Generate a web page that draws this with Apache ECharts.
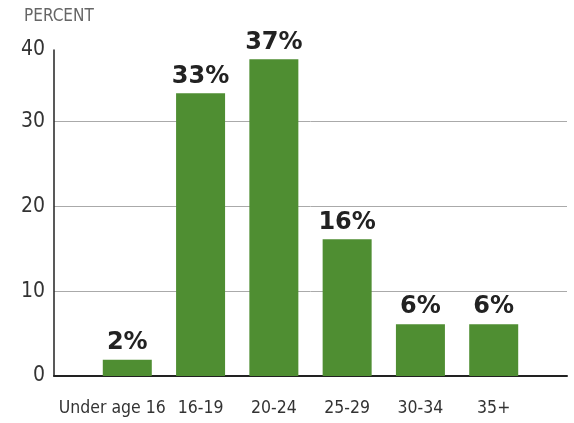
<!DOCTYPE html>
<html>
<head>
<meta charset="utf-8">
<script src="https://cdn.jsdelivr.net/npm/echarts@6/dist/echarts.min.js"></script>
<style>
  html, body { margin: 0; padding: 0; background: #fff; }
  #chart { width: 574px; height: 423px; }
</style>
</head>
<body>
<div id="chart"></div>
<script>
// empty slots at both ends keep the bars on the axis points
const categories = ['', 'Under age 16', '16-19', '20-24', '25-29', '30-34', '35+', ''];
const shares = [null, 1.9, 33.3, 37.3, 16.1, 6.1, 6.1, null];
const yTicks = [0, 10, 20, 30];
const yTopValue = 38.4;
const yTopLabel = '40';

const chart = echarts.init(document.getElementById('chart'));
const font = '"DejaVu Sans Condensed", "DejaVu Sans", sans-serif';

chart.setOption({
  animation: false,
  graphic: [
    {
      type: 'text',
      left: 24,
      top: 8,
      style: { text: 'PERCENT', fill: '#666', font: '17px ' + font }
    }
  ],
  grid: { left: 54, right: 7, top: 50, bottom: 47 },
  xAxis: {
    type: 'category',
    data: categories.map((c, i) =>
      i === 1 ? { value: c, textStyle: { padding: [0, 30, 0, 0] } } : c
    ),
    boundaryGap: false,
    axisLine: { lineStyle: { color: '#222', width: 2 } },
    axisTick: { show: false },
    axisLabel: {
      color: '#333',
      fontSize: 17.5,
      fontFamily: font,
      margin: 23,
      interval: 0
    },
    splitLine: { show: false }
  },
  yAxis: {
    type: 'value',
    min: 0,
    max: yTopValue,
    interval: 10,
    axisLine: { show: true, lineStyle: { color: '#222', width: 1.5 } },
    axisTick: { show: false },
    axisLabel: {
      customValues: yTicks.concat([yTopValue]),
      color: '#333',
      fontSize: 21,
      fontFamily: font,
      margin: 9,
      formatter: (v) => (v > 35 ? yTopLabel : String(v))
    },
    splitLine: {
      show: true,
      lineStyle: { color: ['#aaa', '#aaa', '#aaa', '#aaa', 'rgba(0,0,0,0)'], width: 1 }
    }
  },
  series: [
    {
      type: 'bar',
      data: shares,
      barWidth: 49,
      itemStyle: { color: '#4f8e32' },
      label: {
        show: true,
        position: 'top',
        distance: 5,
        color: '#222',
        fontSize: 24,
        fontWeight: 'bold',
        fontFamily: '"DejaVu Sans", sans-serif',
        formatter: (p) => Math.round(p.value) + '%'
      }
    }
  ]
});
</script>
</body>
</html>
